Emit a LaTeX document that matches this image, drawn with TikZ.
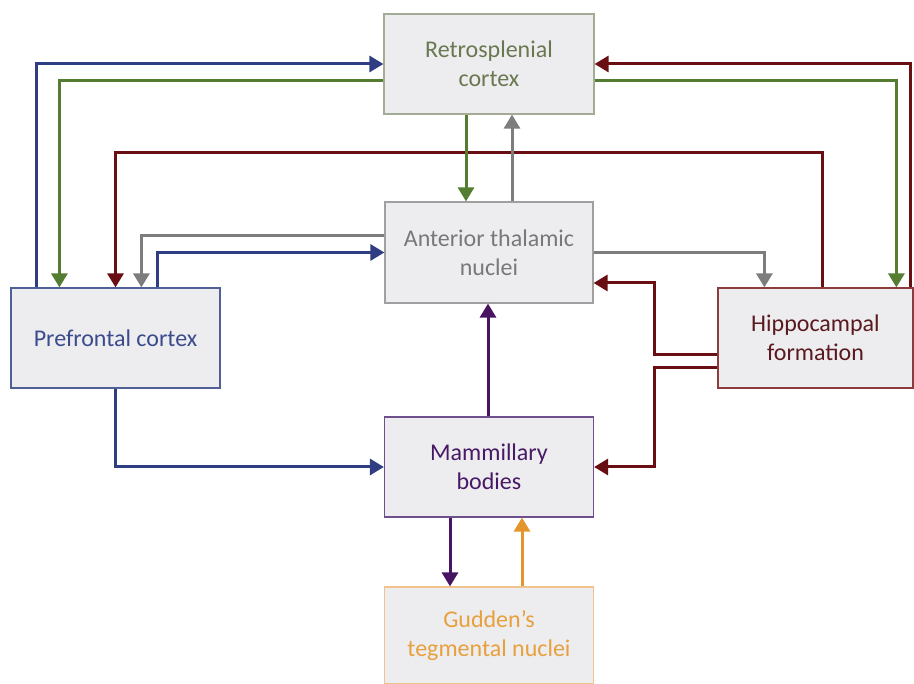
\documentclass[tikz,border=0pt]{standalone}
\usepackage{fontspec}
\setmainfont{Carlito}
\usetikzlibrary{arrows.meta}
\definecolor{cblue}{RGB}{47,62,130}
\definecolor{cgreen}{RGB}{84,125,50}
\definecolor{cred}{RGB}{105,15,20}
\definecolor{cgray}{RGB}{125,125,125}
\definecolor{cpurple}{RGB}{72,20,98}
\definecolor{corange}{RGB}{228,150,45}
\definecolor{boxfill}{RGB}{237,237,240}
\tikzset{
  box/.style={draw, fill=boxfill, line width=1.2pt, align=center, inner sep=0pt,
    font=\fontsize{24}{29}\selectfont, minimum height=100pt},
  conn/.style={line width=3pt, -{Triangle[width=16pt,length=14pt]}},
}
\begin{document}
\begin{tikzpicture}[x=1pt,y=-1pt]
\useasboundingbox[fill=white] (0,0) rectangle (914,684);
% boxes
\node[box, draw={rgb,255:red,165;green,172;blue,150}, text={rgb,255:red,105;green,120;blue,80}, minimum width=210pt] (rsc) at (489,64) {Retrosplenial\\cortex};
\node[box, draw={rgb,255:red,160;green,160;blue,160}, text={rgb,255:red,120;green,120;blue,120}, minimum width=208pt, minimum height=101pt] (atn) at (489,252.5) {Anterior thalamic\\nuclei};
\node[box, draw={rgb,255:red,80;green,95;blue,150}, text={rgb,255:red,60;green,75;blue,140}, minimum width=209pt] (pfc) at (115.5,338) {Prefrontal cortex};
\node[box, draw={rgb,255:red,140;green,60;blue,60}, text={rgb,255:red,90;green,25;blue,30}, minimum width=195pt] (hf) at (815.5,338) {Hippocampal\\formation};
\node[box, draw={rgb,255:red,110;green,80;blue,140}, text={rgb,255:red,72;green,25;blue,100}, minimum width=209pt] (mb) at (489,467) {Mammillary\\bodies};
\node[box, draw={rgb,255:red,240;green,195;blue,140}, text={rgb,255:red,232;green,160;blue,60}, minimum width=209pt, minimum height=97pt] (gtn) at (489,635.5) {Gudden's\\tegmental nuclei};
% connectors
\draw[conn, cblue] ([xshift=26pt]pfc.north west) |- (rsc.west);
\draw[conn, cgreen] ([yshift=-17pt]rsc.west) -| ([xshift=49pt]pfc.north west);
\draw[conn, cred] ([xshift=105pt]hf.north west) -- ++(0,-135) -| (pfc.north);
\draw[conn, cgray] ([yshift=16.5pt]atn.west) -| ([xshift=131pt]pfc.north west);
\draw[conn, cblue] ([xshift=147pt]pfc.north west) |- (atn.west);
\draw[conn, cgreen] ([xshift=-23pt]rsc.south) -- ([xshift=-23pt]atn.north);
\draw[conn, cgray] ([xshift=23pt]atn.north) -- ([xshift=23pt]rsc.south);
\draw[conn, cgray] (atn.east) -| ([xshift=47pt]hf.north west);
\draw[conn, cred] ([xshift=193pt]hf.north west) |- (rsc.east);
\draw[conn, cgreen] ([yshift=-17pt]rsc.east) -| ([xshift=179pt]hf.north west);
\draw[conn, cred] ([yshift=-17pt]hf.west) -- ++(-63,0) |- ([yshift=-30.5pt]atn.east);
\draw[conn, cred] ([yshift=-30pt]hf.west) -- ++(-63,0) |- (mb.east);
\draw[conn, cpurple] ([xshift=-1pt]mb.north) -- ([xshift=-1pt]atn.south);
\draw[conn, cpurple] ([xshift=-39pt]mb.south) -- ([xshift=-39pt]gtn.north);
\draw[conn, corange] ([xshift=33pt]gtn.north) -- ([xshift=33pt]mb.south);
\draw[conn, cblue] (pfc.south) |- (mb.west);
\end{tikzpicture}
\end{document}
